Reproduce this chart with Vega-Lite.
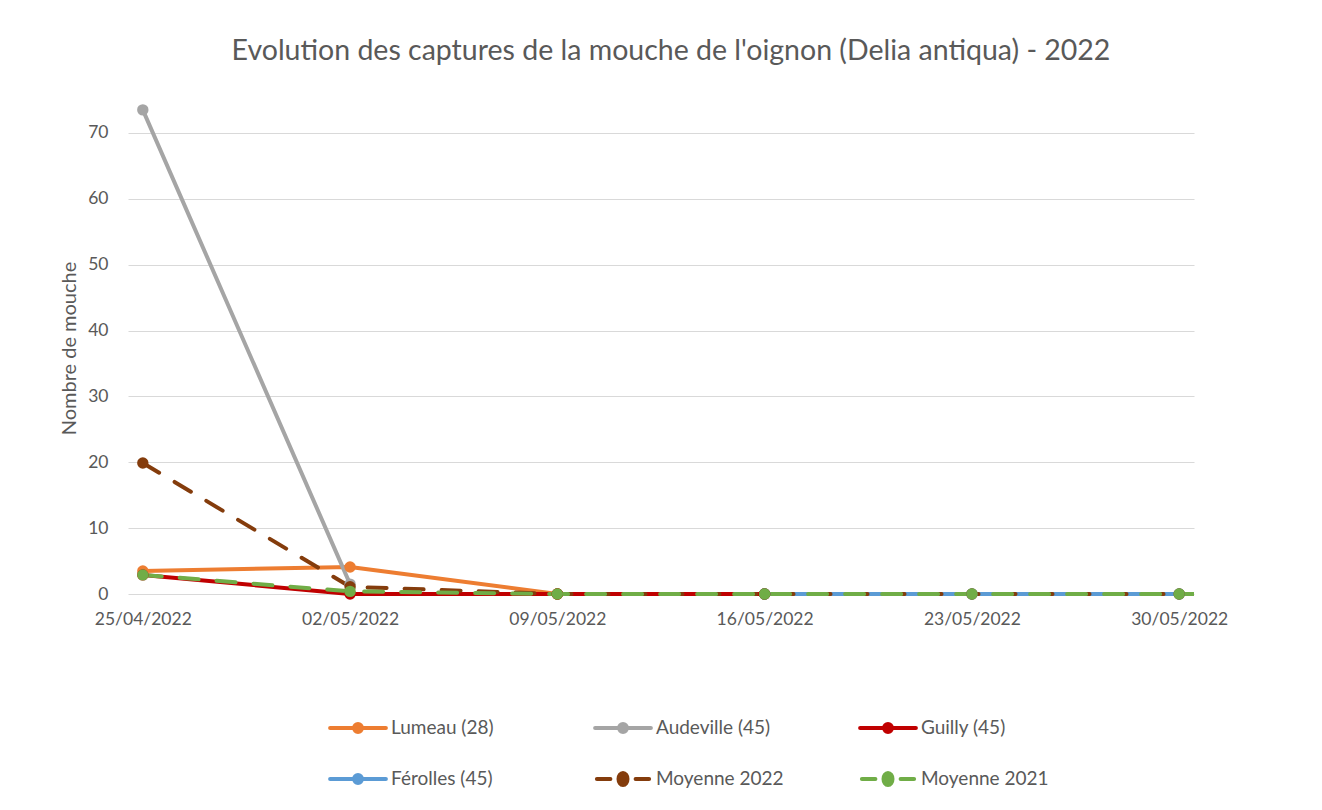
{
  "$schema": "https://vega.github.io/schema/vega-lite/v6.json",
  "width": 1066,
  "height": 496,
  "autosize": {"type": "none"},
  "padding": {"left": 128, "top": 100, "right": 128, "bottom": 214},
  "background": "white",
  "config": {"font": "Lato", "view": {"stroke": null}},
  "title": {
    "text": "Evolution des captures de la mouche de l'oignon (Delia antiqua) - 2022",
    "fontSize": 28.5,
    "fontWeight": "normal",
    "color": "#595959",
    "frame": "group",
    "anchor": "middle",
    "baseline": "alphabetic",
    "offset": 12,
    "dx": 10
  },
  "data": {
    "values": [
      {"date": "2022-04-25", "series": "Lumeau (28)", "value": 3.5},
      {"date": "2022-05-02", "series": "Lumeau (28)", "value": 4.1},
      {"date": "2022-05-09", "series": "Lumeau (28)", "value": 0},
      {"date": "2022-04-25", "series": "Audeville (45)", "value": 73.5},
      {"date": "2022-05-02", "series": "Audeville (45)", "value": 1.5},
      {"date": "2022-04-25", "series": "Guilly (45)", "value": 2.9},
      {"date": "2022-05-02", "series": "Guilly (45)", "value": 0},
      {"date": "2022-05-09", "series": "Guilly (45)", "value": 0},
      {"date": "2022-05-16", "series": "Guilly (45)", "value": 0},
      {"date": "2022-05-16", "series": "Férolles (45)", "value": 0},
      {"date": "2022-05-23", "series": "Férolles (45)", "value": 0},
      {"date": "2022-05-30", "series": "Férolles (45)", "value": 0},
      {"date": "2022-06-06", "series": "Férolles (45)", "value": 0},
      {"date": "2022-04-25", "series": "Moyenne 2022", "value": 19.9},
      {"date": "2022-05-02", "series": "Moyenne 2022", "value": 1.1},
      {"date": "2022-05-09", "series": "Moyenne 2022", "value": 0},
      {"date": "2022-05-16", "series": "Moyenne 2022", "value": 0},
      {"date": "2022-05-23", "series": "Moyenne 2022", "value": 0},
      {"date": "2022-05-30", "series": "Moyenne 2022", "value": 0},
      {"date": "2022-06-06", "series": "Moyenne 2022", "value": 0},
      {"date": "2022-04-25", "series": "Moyenne 2021", "value": 2.9},
      {"date": "2022-05-02", "series": "Moyenne 2021", "value": 0.4},
      {"date": "2022-05-09", "series": "Moyenne 2021", "value": 0},
      {"date": "2022-05-16", "series": "Moyenne 2021", "value": 0},
      {"date": "2022-05-23", "series": "Moyenne 2021", "value": 0},
      {"date": "2022-05-30", "series": "Moyenne 2021", "value": 0},
      {"date": "2022-06-06", "series": "Moyenne 2021", "value": 0}
    ]
  },
  "encoding": {
    "x": {
      "field": "date",
      "type": "temporal",
      "scale": {
        "type": "utc",
        "domain": [
          {"year": 2022, "month": 4, "date": 24, "hours": 12, "utc": true},
          {"year": 2022, "month": 5, "date": 30, "hours": 12, "utc": true}
        ]
      },
      "axis": {
        "title": null,
        "labelExpr": "utcFormat(datum.value, '%d/%m/%Y')",
        "values": [
          {"year": 2022, "month": 4, "date": 25, "utc": true},
          {"year": 2022, "month": 5, "date": 2, "utc": true},
          {"year": 2022, "month": 5, "date": 9, "utc": true},
          {"year": 2022, "month": 5, "date": 16, "utc": true},
          {"year": 2022, "month": 5, "date": 23, "utc": true},
          {"year": 2022, "month": 5, "date": 30, "utc": true}
        ],
        "labelFontSize": 17.5,
        "labelColor": "#595959",
        "labelPadding": 14,
        "ticks": false,
        "domain": false,
        "grid": false,
        "labelFlush": false,
        "labelOverlap": false
      }
    },
    "y": {
      "field": "value",
      "type": "quantitative",
      "scale": {"domain": [-0.3, 75], "nice": false, "zero": false},
      "axis": {
        "title": "Nombre de mouche",
        "values": [0, 10, 20, 30, 40, 50, 60, 70],
        "grid": true,
        "gridColor": "#d9d9d9",
        "domain": false,
        "ticks": false,
        "labelPadding": 20,
        "labelFontSize": 17.5,
        "labelColor": "#595959",
        "titleFontSize": 20,
        "titleFontWeight": "normal",
        "titleColor": "#595959",
        "titlePadding": 8
      }
    },
    "color": {
      "field": "series",
      "type": "nominal",
      "scale": {
        "domain": ["Lumeau (28)", "Audeville (45)", "Guilly (45)", "Férolles (45)", "Moyenne 2022", "Moyenne 2021"],
        "range": ["#ED7D31", "#A5A5A5", "#C00000", "#5B9BD5", "#843C0C", "#70AD47"]
      },
      "legend": {
        "title": null,
        "orient": "none",
        "legendX": 210,
        "legendY": 607,
        "direction": "horizontal",
        "columns": 3,
        "columnPadding": 68,
        "rowPadding": 18,
        "gridAlign": "all",
        "padding": 0,
        "labelFontSize": 19,
        "labelColor": "#595959",
        "symbolSize": 1296,
        "labelOffset": 13,
        "encode": {
          "symbols": {
            "update": {
              "shape": {"signal": "indexof(['Moyenne 2022','Moyenne 2021'], datum.value) >= 0 ? 'M-1.45,0L-0.7,0M0.7,0L1.45,0M-0.25,0A0.25,0.33,0,1,0,0.25,0A0.25,0.33,0,1,0,-0.25,0Z' : 'M-1.55,0L1.55,0M-0.22,0A0.22,0.22,0,1,0,0.22,0A0.22,0.22,0,1,0,-0.22,0Z'"},
              "fill": {"scale": "color", "field": "value"},
              "stroke": {"scale": "color", "field": "value"},
              "strokeWidth": {"value": 4},
              "strokeDash": {"value": []},
              "strokeCap": {"value": "round"},
              "opacity": {"value": 1},
              "fillOpacity": {"value": 1}
            }
          }
        }
      }
    }
  },
  "layer": [
    {
      "transform": [{"filter": "indexof(['Moyenne 2022','Moyenne 2021'], datum.series) < 0"}],
      "mark": {"type": "line", "strokeWidth": 4, "strokeJoin": "round", "strokeCap": "round", "clip": true}
    },
    {
      "transform": [{"filter": "indexof(['Moyenne 2022','Moyenne 2021'], datum.series) >= 0"}],
      "mark": {"type": "line", "strokeWidth": 4, "strokeDash": [19, 18], "strokeJoin": "round", "strokeCap": "round", "clip": true}
    },
    {
      "mark": {"type": "point", "filled": true, "size": 130, "opacity": 1}
    }
  ]
}
